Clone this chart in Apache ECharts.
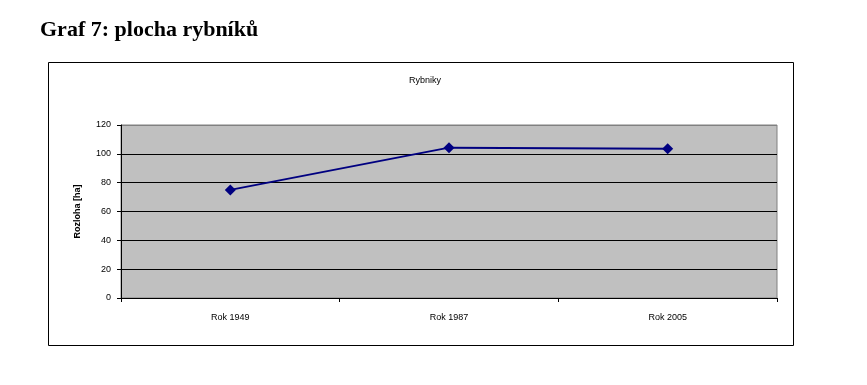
<!DOCTYPE html>
<html>
<head>
<meta charset="utf-8">
<script src="https://cdn.jsdelivr.net/npm/echarts@6/dist/echarts.min.js"></script>
<style>
html,body{margin:0;padding:0;background:#fff;}
#c{width:867px;height:385px;}
</style>
</head>
<body>
<div id="c"></div>
<script>
var categories = ['Rok 1949', 'Rok 1987', 'Rok 2005'];
var values = [75, 104.3, 103.6];
var yTicks = [0, 20, 40, 60, 80, 100, 120];

var chart = echarts.init(document.getElementById('c'), null, {renderer: 'canvas'});
chart.setOption({
  animation: false,
  backgroundColor: '#fff',
  title: [
    {text: 'Graf 7: plocha rybníků', left: 35, top: 14,
     textStyle: {fontFamily: 'Liberation Serif', fontWeight: 'bold', fontSize: 22, color: '#000'}},
    {text: 'Rybniky', left: 420, textAlign: 'center', top: 71,
     textStyle: {fontFamily: 'Liberation Sans', fontWeight: 'normal', fontSize: 9, color: '#000'}}
  ],
  graphic: [
    {type: 'rect', shape: {x: 48.5, y: 62.5, width: 745, height: 283},
     style: {fill: 'none', stroke: '#000', lineWidth: 1}, z: -1}
  ],
  grid: {left: 121, right: 90, top: 125, bottom: 87, show: true,
         backgroundColor: '#c0c0c0', borderColor: '#808080', borderWidth: 1},
  xAxis: {
    type: 'category', data: categories, boundaryGap: true,
    axisLine: {lineStyle: {color: '#000', width: 1}},
    axisTick: {show: true, inside: false, length: 4, alignWithLabel: false, lineStyle: {color: '#000'}},
    axisLabel: {fontFamily: 'Liberation Sans', fontSize: 9, color: '#000', margin: 15}
  },
  yAxis: {
    type: 'value', min: yTicks[0], max: yTicks[yTicks.length - 1], interval: 20,
    name: 'Rozloha [ha]', nameLocation: 'middle', nameGap: 39, nameRotate: 90,
    nameTextStyle: {fontFamily: 'Liberation Sans', fontWeight: 'bold', fontSize: 9, color: '#000'},
    axisLine: {show: true, lineStyle: {color: '#000', width: 1}},
    axisTick: {show: true, inside: false, length: 4, lineStyle: {color: '#000'}},
    axisLabel: {fontFamily: 'Liberation Sans', fontSize: 9, color: '#000', margin: 10},
    splitLine: {show: true, lineStyle: {color: ['#000','#000','#000','#000','#000','#000','#808080'], width: 1}}
  },
  series: [{
    type: 'line', data: values,
    lineStyle: {color: '#000080', width: 2},
    itemStyle: {color: '#000080'},
    symbol: 'diamond', symbolSize: 11
  }]
});
</script>
</body>
</html>
